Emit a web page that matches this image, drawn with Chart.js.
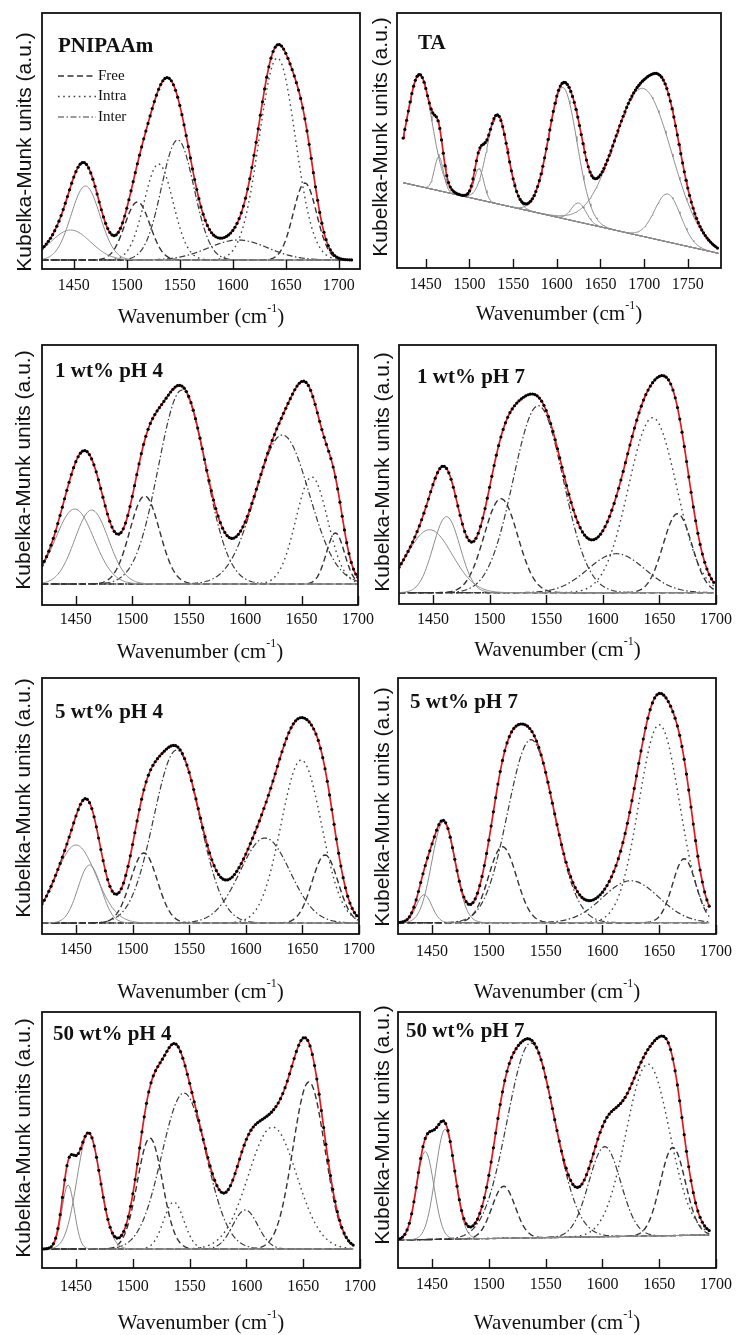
<!DOCTYPE html>
<html>
<head>
<meta charset="utf-8">
<title>Kubelka-Munk band fitting</title>
<script src="https://cdn.jsdelivr.net/npm/chart.js@4.4.1/dist/chart.umd.min.js"></script>
<style>
  html, body { margin: 0; padding: 0; background: #fff; }
  #page { position: relative; width: 736px; height: 1335px; overflow: hidden; }
  #page canvas { position: absolute; left: 0; top: 0; }
</style>
</head>
<body>
<div id="page"></div>
<script>
"use strict";

const panelTitles = ["PNIPAAm", "TA", "1 wt% pH 4", "1 wt% pH 7", "5 wt% pH 4", "5 wt% pH 7", "50 wt% pH 4", "50 wt% pH 7"];
const legendLabels = ["Free", "Intra", "Inter"];
const ticksPolymer = [1450, 1500, 1550, 1600, 1650, 1700];
const ticksTA = [1450, 1500, 1550, 1600, 1650, 1700, 1750];

// fitted bands: [centre cm-1, height a.u., FWHM cm-1, assignment]
const bandsPnipaam = [
    [1447, 0.30, 44, "other"],
    [1461, 0.74, 32, "other"],
    [1510, 0.58, 28, "free"],
    [1530, 0.96, 32, "intra"],
    [1548, 1.20, 36, "inter"],
    [1605, 0.20, 66, "inter"],
    [1642, 2.02, 40, "intra"],
    [1668, 0.77, 26, "free"]
];
const bandsTA = [
    [1443, 1.12, 33, "other"],
    [1465, 0.34, 12, "other"],
    [1511, 0.31, 13, "other"],
    [1532, 0.89, 28, "other"],
    [1607, 1.31, 38, "other"],
    [1625, 0.19, 20, "other"],
    [1699, 1.48, 77, "other"],
    [1727, 0.48, 35, "other"]
];
const bands1pH4 = [
    [1449, 0.75, 40, "other"],
    [1464, 0.74, 35, "other"],
    [1511, 0.88, 31, "free"],
    [1544, 1.94, 49, "inter"],
    [1633, 1.49, 56, "inter"],
    [1659, 1.07, 33, "intra"],
    [1680, 0.51, 19, "free"]
];
const bands1pH7 = [
    [1447, 0.63, 47, "other"],
    [1462, 0.76, 28, "other"],
    [1510, 0.94, 35, "free"],
    [1543, 1.87, 52, "inter"],
    [1612, 0.39, 59, "inter"],
    [1644, 1.75, 50, "intra"],
    [1666, 0.79, 30, "free"]
];
const bands5pH4 = [
    [1450, 0.78, 42, "other"],
    [1462, 0.58, 24, "other"],
    [1510, 0.70, 28, "free"],
    [1539, 1.73, 48, "inter"],
    [1617, 0.85, 52, "inter"],
    [1649, 1.63, 42, "intra"],
    [1670, 0.68, 27, "free"]
];
const bands5pH7 = [
    [1443, 0.28, 16, "other"],
    [1460, 1.01, 24, "other"],
    [1512, 0.76, 29, "free"],
    [1537, 1.83, 48, "inter"],
    [1625, 0.42, 58, "inter"],
    [1650, 1.98, 42, "intra"],
    [1672, 0.64, 24, "free"]
];
const bands50pH4 = [
    [1443, 0.64, 13, "other"],
    [1461, 1.16, 24, "other"],
    [1515, 1.11, 26, "free"],
    [1536, 0.47, 21, "intra"],
    [1545, 1.56, 46, "inter"],
    [1599, 0.39, 26, "inter"],
    [1623, 1.22, 50, "intra"],
    [1655, 1.67, 33, "free"]
];
const bands50pH7 = [
    [1444, 0.88, 18, "other"],
    [1461.5, 1.10, 20, "other"],
    [1513, 0.52, 24, "free"],
    [1537, 1.95, 49, "inter"],
    [1602, 0.90, 33, "inter"],
    [1640, 1.72, 45, "intra"],
    [1662, 0.88, 26, "free"]
];

// recorded range of each spectrum (cm-1)
const spanPnipaam = [1420, 1713];
const spanTA = [1424, 1785];
const span1pH4 = [1420, 1700];
const span1pH7 = [1420, 1698];
const span5pH4 = [1420, 1699];
const span5pH7 = [1420, 1694];
const span50pH4 = [1420, 1694];
const span50pH7 = [1420, 1694];

// linear baseline, a.u. at start / end of the span
const baseFlat = [0, 0];
const baseTA = [0.853, 0.147];
const base50pH7 = [0, 0.05];

const lineStyles = {
    other: { borderColor: "#8c8c8c", borderWidth: 1, borderDash: [] },
    free: { borderColor: "#333", borderWidth: 1.4, borderDash: [6, 3.5] },
    intra: { borderColor: "#444", borderWidth: 1.4, borderDash: [1.6, 3.6] },
    inter: { borderColor: "#3a3a3a", borderWidth: 1.2, borderDash: [6, 2.5, 1.5, 2.5] }
};

const panels = [
    { bands: bandsPnipaam, span: spanPnipaam, base: baseFlat, ticks: ticksPolymer, x: [1420, 1720], y: [-0.09, 2.47],
        frame: [42, 13, 360, 269], yTitle: [25, 152], label: [58, 52], tickGap: 17, xTitleGap: 48, legend: true },
    { bands: bandsTA, span: spanTA, base: baseTA, ticks: ticksTA, x: [1417, 1788], y: [0, 2.55],
        frame: [397, 13, 721, 268], yTitle: [381, 137], label: [418, 49], tickGap: 17, xTitleGap: 46, showBase: true },
    { bands: bands1pH4, span: span1pH4, base: baseFlat, ticks: ticksPolymer, x: [1420, 1700], y: [-0.21, 2.39],
        frame: [42, 345, 358, 605], yTitle: [24, 470], label: [55, 377], tickGap: 15, xTitleGap: 47 },
    { bands: bands1pH7, span: span1pH7, base: baseFlat, ticks: ticksPolymer, x: [1420, 1700], y: [-0.113, 2.477],
        frame: [399, 345, 716, 604], yTitle: [383, 472], label: [417, 383], tickGap: 16, xTitleGap: 46 },
    { bands: bands5pH4, span: span5pH4, base: baseFlat, ticks: ticksPolymer, x: [1420, 1700], y: [-0.11, 2.45],
        frame: [42, 678, 359, 934], yTitle: [24, 798], label: [55, 718], tickGap: 16, xTitleGap: 58 },
    { bands: bands5pH7, span: span5pH7, base: baseFlat, ticks: ticksPolymer, x: [1420, 1700], y: [-0.113, 2.447],
        frame: [398, 678, 716, 934], yTitle: [383, 807], label: [410, 708], tickGap: 18, xTitleGap: 58 },
    { bands: bands50pH4, span: span50pH4, base: baseFlat, ticks: ticksPolymer, x: [1420, 1700], y: [-0.19, 2.37],
        frame: [42, 1012, 360, 1268], yTitle: [24, 1138], label: [53, 1040], tickGap: 19, xTitleGap: 55 },
    { bands: bands50pH7, span: span50pH7, base: base50pH7, ticks: ticksPolymer, x: [1420, 1700], y: [-0.28, 2.28],
        frame: [398, 1012, 716, 1268], yTitle: [383, 1125], label: [406, 1037], tickGap: 17, xTitleGap: 55 }
];

// spacing of the recorded points, cm-1
const pointSpacing = 2;

function bandValue(band, wn) {
    const [centre, height, fwhm] = band;
    return height * Math.exp(-4 * Math.LN2 * ((wn - centre) / fwhm) ** 2);
}

function baselineAt(base, span, wn) {
    return base[0] + (base[1] - base[0]) * (wn - span[0]) / (span[1] - span[0]);
}

function fitAt(panel, wn) {
    let sum = baselineAt(panel.base, panel.span, wn);
    for (const band of panel.bands) {
        sum += bandValue(band, wn);
    }
    return sum;
}

function sampleGrid(span, step) {
    const grid = [];
    for (let wn = span[0]; wn <= span[1] + 1e-6; wn += step) {
        grid.push(wn);
    }
    return grid;
}

function buildDatasets(panel) {
    const fine = sampleGrid(panel.span, 1);
    const datasets = [];

    datasets.push({
        data: sampleGrid(panel.span, pointSpacing).map(wn => ({ x: wn, y: fitAt(panel, wn) })),
        showLine: false, pointRadius: 1.6, pointBackgroundColor: "#000", pointBorderWidth: 0, order: 0
    });
    datasets.push({
        data: fine.map(wn => ({ x: wn, y: fitAt(panel, wn) })),
        borderColor: "#e3191c", borderWidth: 1.7, pointRadius: 0, order: 1
    });

    for (const band of panel.bands) {
        datasets.push(Object.assign({
            data: fine.map(wn => ({ x: wn, y: baselineAt(panel.base, panel.span, wn) + bandValue(band, wn) })),
            pointRadius: 0, order: 2
        }, lineStyles[band[3]]));
    }

    if (panel.showBase) {
        datasets.push({
            data: panel.span.map(wn => ({ x: wn, y: baselineAt(panel.base, panel.span, wn) })),
            borderColor: "#8c8c8c", borderWidth: 1, pointRadius: 0, order: 3
        });
    }
    return datasets;
}

function drawWavenumberTitle(ctx, cx, cy) {
    const main = "Wavenumber (cm", sup = "-1", tail = ")";
    ctx.font = "21px 'Liberation Serif'";
    const w1 = ctx.measureText(main).width;
    const w3 = ctx.measureText(tail).width;
    ctx.font = "12px 'Liberation Serif'";
    const w2 = ctx.measureText(sup).width;

    let x = cx - (w1 + w2 + w3) / 2;
    ctx.textAlign = "left";
    ctx.textBaseline = "middle";
    ctx.font = "21px 'Liberation Serif'";
    ctx.fillText(main, x, cy);
    x += w1;
    ctx.font = "12px 'Liberation Serif'";
    ctx.fillText(sup, x, cy - 8);
    x += w2;
    ctx.font = "21px 'Liberation Serif'";
    ctx.fillText(tail, x, cy);
}

const panelFrame = {
    id: "panelFrame",
    afterDatasetsDraw(chart, args, opts) {
        const { ctx, chartArea: area, scales: { x } } = chart;
        ctx.save();
        ctx.fillStyle = "#111";
        ctx.strokeStyle = "#111";

        // tick marks point inward from the bottom edge
        ctx.lineWidth = 1.4;
        ctx.beginPath();
        for (const t of opts.ticks) {
            const px = Math.round(x.getPixelForValue(t)) + 0.5;
            ctx.moveTo(px, area.bottom);
            ctx.lineTo(px, area.bottom - 9);
        }
        ctx.stroke();

        ctx.lineWidth = 1.8;
        ctx.strokeRect(area.left, area.top, area.right - area.left, area.bottom - area.top);

        ctx.font = "16px 'Liberation Serif'";
        ctx.textAlign = "center";
        ctx.textBaseline = "middle";
        for (const t of opts.ticks) {
            ctx.fillText(String(t), x.getPixelForValue(t), area.bottom + opts.tickGap);
        }

        drawWavenumberTitle(ctx, (area.left + area.right) / 2, area.bottom + opts.xTitleGap);

        ctx.save();
        ctx.translate(opts.yTitle[0], opts.yTitle[1]);
        ctx.rotate(-Math.PI / 2);
        ctx.font = "21px 'Liberation Sans'";
        ctx.textAlign = "center";
        ctx.textBaseline = "middle";
        ctx.fillText("Kubelka-Munk units (a.u.)", 0, 0);
        ctx.restore();

        ctx.font = "bold 21px 'Liberation Serif'";
        ctx.textAlign = "left";
        ctx.textBaseline = "alphabetic";
        ctx.fillText(opts.title, opts.label[0], opts.label[1]);

        if (opts.legend) {
            const kinds = ["free", "intra", "inter"];
            ctx.font = "15px 'Liberation Serif'";
            ctx.textBaseline = "middle";
            legendLabels.forEach((text, i) => {
                const ly = area.top + 63 + i * 20.5;
                const style = lineStyles[kinds[i]];
                ctx.save();
                ctx.strokeStyle = style.borderColor;
                ctx.lineWidth = style.borderWidth;
                ctx.setLineDash(style.borderDash);
                ctx.beginPath();
                ctx.moveTo(area.left + 16, ly);
                ctx.lineTo(area.left + 54, ly);
                ctx.stroke();
                ctx.restore();
                ctx.fillText(text, area.left + 56, ly);
            });
        }
        ctx.restore();
    }
};

function createPanel(panel, index) {
    const canvas = document.createElement("canvas");
    canvas.width = 736;
    canvas.height = 1335;
    document.getElementById("page").appendChild(canvas);

    const [left, top, right, bottom] = panel.frame;
    new Chart(canvas.getContext("2d"), {
        type: "line",
        data: { datasets: buildDatasets(panel) },
        options: {
            responsive: false,
            animation: false,
            devicePixelRatio: 1,
            layout: { padding: { left, top, right: 736 - right, bottom: 1335 - bottom } },
            elements: { line: { tension: 0, fill: false } },
            scales: {
                x: { type: "linear", min: panel.x[0], max: panel.x[1], display: false },
                y: { type: "linear", min: panel.y[0], max: panel.y[1], display: false }
            },
            plugins: {
                legend: { display: false },
                tooltip: { enabled: false },
                panelFrame: {
                    title: panelTitles[index], ticks: panel.ticks, tickGap: panel.tickGap,
                    xTitleGap: panel.xTitleGap, yTitle: panel.yTitle, label: panel.label, legend: !!panel.legend
                }
            }
        },
        plugins: [panelFrame]
    });
}

panels.forEach(createPanel);
</script>
</body>
</html>
